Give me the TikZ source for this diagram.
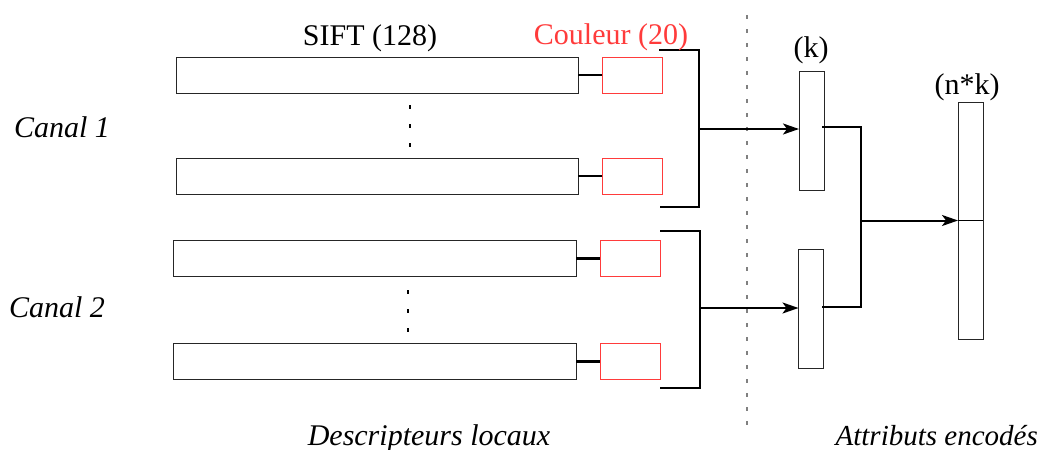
\documentclass[tikz,border=0pt]{standalone}
\usepackage{fontspec}
\setmainfont{Liberation Serif}
\usetikzlibrary{arrows.meta}
\definecolor{cred}{HTML}{FF3B3B}
\tikzset{
  sbox/.style={draw=black!85, line width=1pt, inner sep=0pt, outer sep=0pt, fill=white},
  cbox/.style={draw=cred, line width=1pt, inner sep=0pt, outer sep=0pt, minimum width=60pt, minimum height=36pt},
  vbox/.style={draw=black!85, line width=1pt, inner sep=0pt, outer sep=0pt, minimum width=25pt},
  link/.style={line width=2.3pt},
  arr/.style={line width=2pt, -{Stealth[length=16pt, width=11pt, inset=4pt]}},
  lbl/.style={font=\fontsize{30}{36}\selectfont, inner sep=0pt},
  ilbl/.style={font=\fontsize{30}{36}\selectfont\itshape, inner sep=0pt},
  dots/.style={line width=2pt, dash pattern=on 4pt off 15pt},
}
\begin{document}
\begin{tikzpicture}[x=1pt,y=-1pt]
\useasboundingbox (0,0) rectangle (1045,450);
% separator
\draw[black!50, line width=1.5pt, dash pattern=on 4pt off 10pt] (747,15) -- (747,430);
% SIFT boxes
\node[sbox, minimum width=402pt, minimum height=36pt] (s1) at (377,75) {};
\node[sbox, minimum width=402pt, minimum height=36pt] (s2) at (377,176) {};
\node[sbox, minimum width=403pt, minimum height=36pt] (s3) at (374.5,258.5) {};
\node[sbox, minimum width=403pt, minimum height=36pt] (s4) at (374.5,361.5) {};
% colour boxes
\node[cbox] (c1) at (632,75) {};
\node[cbox] (c2) at (632,176) {};
\node[cbox] (c3) at (630,258.5) {};
\node[cbox] (c4) at (630,361.5) {};
\draw[link] (s1.east) -- (c1.west);
\draw[link] (s2.east) -- (c2.west);
\draw[link] (s3.east) -- (c3.west);
\draw[link] (s4.east) -- (c4.west);
% dots
\draw[dots] (410,105) -- (410,150);
\draw[dots] (408,290) -- (408,335);
% brackets
\coordinate (b1t) at (659,50);
\coordinate (b1b) at (660,207);
\coordinate (b1m) at (699,129);
\coordinate (b2t) at (660,231);
\coordinate (b2b) at (660,388);
\coordinate (b2m) at (700,308);
\draw[link] (b1t) -- (699,50) -- (699,207) -- (b1b);
\draw[link] (b2t) -- (700,231) -- (700,388) -- (b2b);
% k boxes
\node[vbox, minimum height=119pt] (k1) at (811.5,130.5) {};
\node[vbox, minimum height=119pt] (k2) at (811,308.5) {};
\draw[arr] (b1m) -- (b1m -| k1.west);
\draw[arr] (b2m) -- (b2m -| k2.west);
% concatenation
\node[vbox, minimum height=237pt] (nk) at (970.5,220.5) {};
\coordinate (k1o) at (822,127);
\coordinate (k2o) at (822,307);
\coordinate (jm) at (861,220.5);
\draw[link] (k1o) -- (861,127) -- (861,307) -- (k2o);
\draw[arr] (jm) -- (jm -| nk.west);
\draw[line width=1.2pt] (nk.west) -- (nk.east);
% labels
\node[lbl] (tsift) at (370,38) {SIFT (128)};
\node[lbl, text=cred] (tcol) at (611,37) {Couleur (20)};
\node[lbl] (tk) at (811,50) {(k)};
\node[lbl] (tnk) at (967,87) {(n*k)};
\node[ilbl] (tc1) at (62,127) {Canal 1};
\node[ilbl] (tc2) at (57,307) {Canal 2};
\node[ilbl, anchor=base] (tdl) at (429,445) {Descripteurs locaux};
\node[ilbl, anchor=base east, font=\fontsize{29}{34}\selectfont\itshape] (tae) at (1038,445) {Attributs encodés};
\end{tikzpicture}
\end{document}
